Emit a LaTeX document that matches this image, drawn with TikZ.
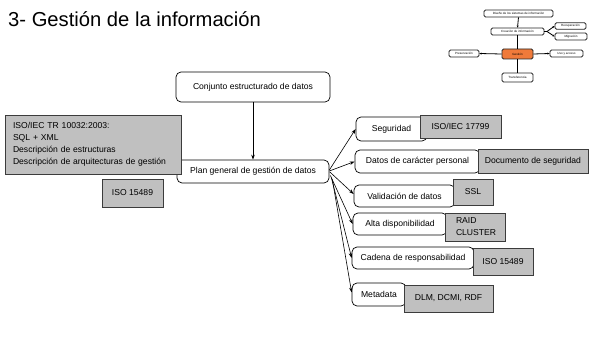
\documentclass[tikz,border=0pt]{standalone}
\usepackage{fontspec}
\setmainfont{Liberation Sans}
\usetikzlibrary{arrows.meta}
\definecolor{gb}{RGB}{192,192,192}
\definecolor{gborder}{RGB}{60,60,60}
\definecolor{orng}{RGB}{240,122,58}
\tikzset{
  mainfont/.style={font=\fontsize{8.6}{12}\selectfont},
  wbox/.style={draw=black, rounded corners=5pt, fill=white, line width=0.7pt, inner sep=0pt, mainfont},
  gbox/.style={draw=gborder, fill=gb, line width=0.7pt, inner sep=0pt, mainfont},
  arr/.style={-{Stealth[length=5pt,width=3.5pt]}, line width=0.6pt},
  mbox/.style={draw=black!85, rounded corners=1.5pt, fill=white, line width=0.8pt, inner sep=0pt, font=\fontsize{3}{3.5}\selectfont},
  marr/.style={-{Stealth[length=2.2pt,width=2pt]}, line width=0.8pt}
}
\begin{document}
\begin{tikzpicture}[x=1pt,y=-1pt]
\useasboundingbox (0,0) rectangle (590,337);
% title
\node[anchor=base west, inner sep=0pt, font=\fontsize{20.2}{24}\selectfont] (title) at (8,27) {3- Gestión de la información};

% mini map
\node[mbox, minimum width=69pt, minimum height=7pt] (dis) at (518.5,13.5) {Diseño de los sistemas de información};
\node[mbox, minimum width=53pt, minimum height=7pt] (cre) at (517.5,31.5) {Creación de información};
\node[mbox, minimum width=31pt, minimum height=6.5pt] (rec) at (570.5,26) {Recuperación};
\node[mbox, minimum width=32pt, minimum height=7pt] (mig) at (571,36.5) {Migración};
\node[mbox, fill=orng, minimum width=31pt, minimum height=10pt] (ges) at (517.5,54) {Gestión};
\node[mbox, minimum width=30pt, minimum height=7pt] (pre) at (464,53.5) {Preservación};
\node[mbox, minimum width=33pt, minimum height=7pt] (uso) at (566.5,53.5) {Uso y acceso};
\node[mbox, minimum width=31pt, minimum height=9pt] (tra) at (517.5,77.5) {Transferencia};
\coordinate (fork) at (547,31.5);
\draw[marr] (dis.south) -- (cre.north);
\draw[line width=0.8pt] (cre.east) -- (fork);
\draw[marr] (fork) -- (rec.west);
\draw[marr] (fork) -- (mig.west);
\draw[line width=0.8pt] (cre.south) -- (ges.north);
\draw[marr] (ges.west) -- (pre.east);
\draw[marr] (ges.east) -- (uso.west);
\draw[line width=0.8pt] (ges.south) -- (tra.north);

% main central
\node[wbox, minimum width=154pt, minimum height=30pt] (conj) at (253,87) {Conjunto estructurado de datos};
\node[wbox, minimum width=152pt, minimum height=23pt] (plan) at (253,171.5) {Plan general de gestión de datos};
\draw[arr] (conj.south) -- (plan.north);

% left gray boxes
\node[gbox, minimum width=176pt, minimum height=59pt, text width=160pt, inner xsep=8pt, align=left] (isotr) at (93,144.5)
  {ISO/IEC TR 10032:2003:\\SQL + XML\\Descripción de estructuras\\Descripción de arquitecturas de gestión};
\node[gbox, minimum width=61pt, minimum height=28pt] (iso1) at (132.5,193) {ISO 15489};

% right white boxes
\node[wbox, minimum width=71pt, minimum height=24pt] (seg) at (391.5,129) {Seguridad};
\node[wbox, minimum width=125pt, minimum height=23pt] (dat) at (417.5,161.5) {Datos de carácter personal};
\node[wbox, minimum width=101pt, minimum height=22pt] (val) at (404.5,196) {Validación de datos};
\node[wbox, minimum width=94pt, minimum height=22pt] (alta) at (400,224) {Alta disponibilidad};
\node[wbox, minimum width=122pt, minimum height=22pt] (cad) at (413,258) {Cadena de responsabilidad};
\node[wbox, minimum width=54pt, minimum height=23pt] (meta) at (379,294.5) {Metadata};

% right gray boxes
\node[gbox, minimum width=81pt, minimum height=23pt] (g1) at (460.5,126.5) {ISO/IEC 17799};
\node[gbox, minimum width=110pt, minimum height=24pt] (g2) at (533,161) {Documento de seguridad};
\node[gbox, minimum width=40pt, minimum height=26pt] (g3) at (473,192) {SSL};
\node[gbox, minimum width=60pt, minimum height=28pt, inner xsep=11pt, text width=38pt, align=left] (g4) at (475,227) {RAID\\CLUSTER};
\node[gbox, minimum width=60pt, minimum height=27pt] (g5) at (503,261.5) {ISO 15489};
\node[gbox, minimum width=89pt, minimum height=27pt] (g6) at (448.5,298.5) {DLM, DCMI, RDF};

% fan arrows
\draw[arr] ([yshift=1.5pt]plan.east) -- (seg.west);
\draw[arr] ([yshift=0.5pt]plan.east) -- (dat.west);
\draw[arr] ([xshift=0.5pt,yshift=-0.5pt]plan.east) -- ([yshift=2pt]val.west);
\draw[arr] ([xshift=1pt,yshift=-4pt]plan.east) -- (alta.west);
\draw[arr] ([xshift=2pt,yshift=-6pt]plan.east) -- (cad.west);
\draw[arr] ([xshift=3pt,yshift=-8pt]plan.east) -- ([yshift=2pt]meta.west);
\end{tikzpicture}
\end{document}
